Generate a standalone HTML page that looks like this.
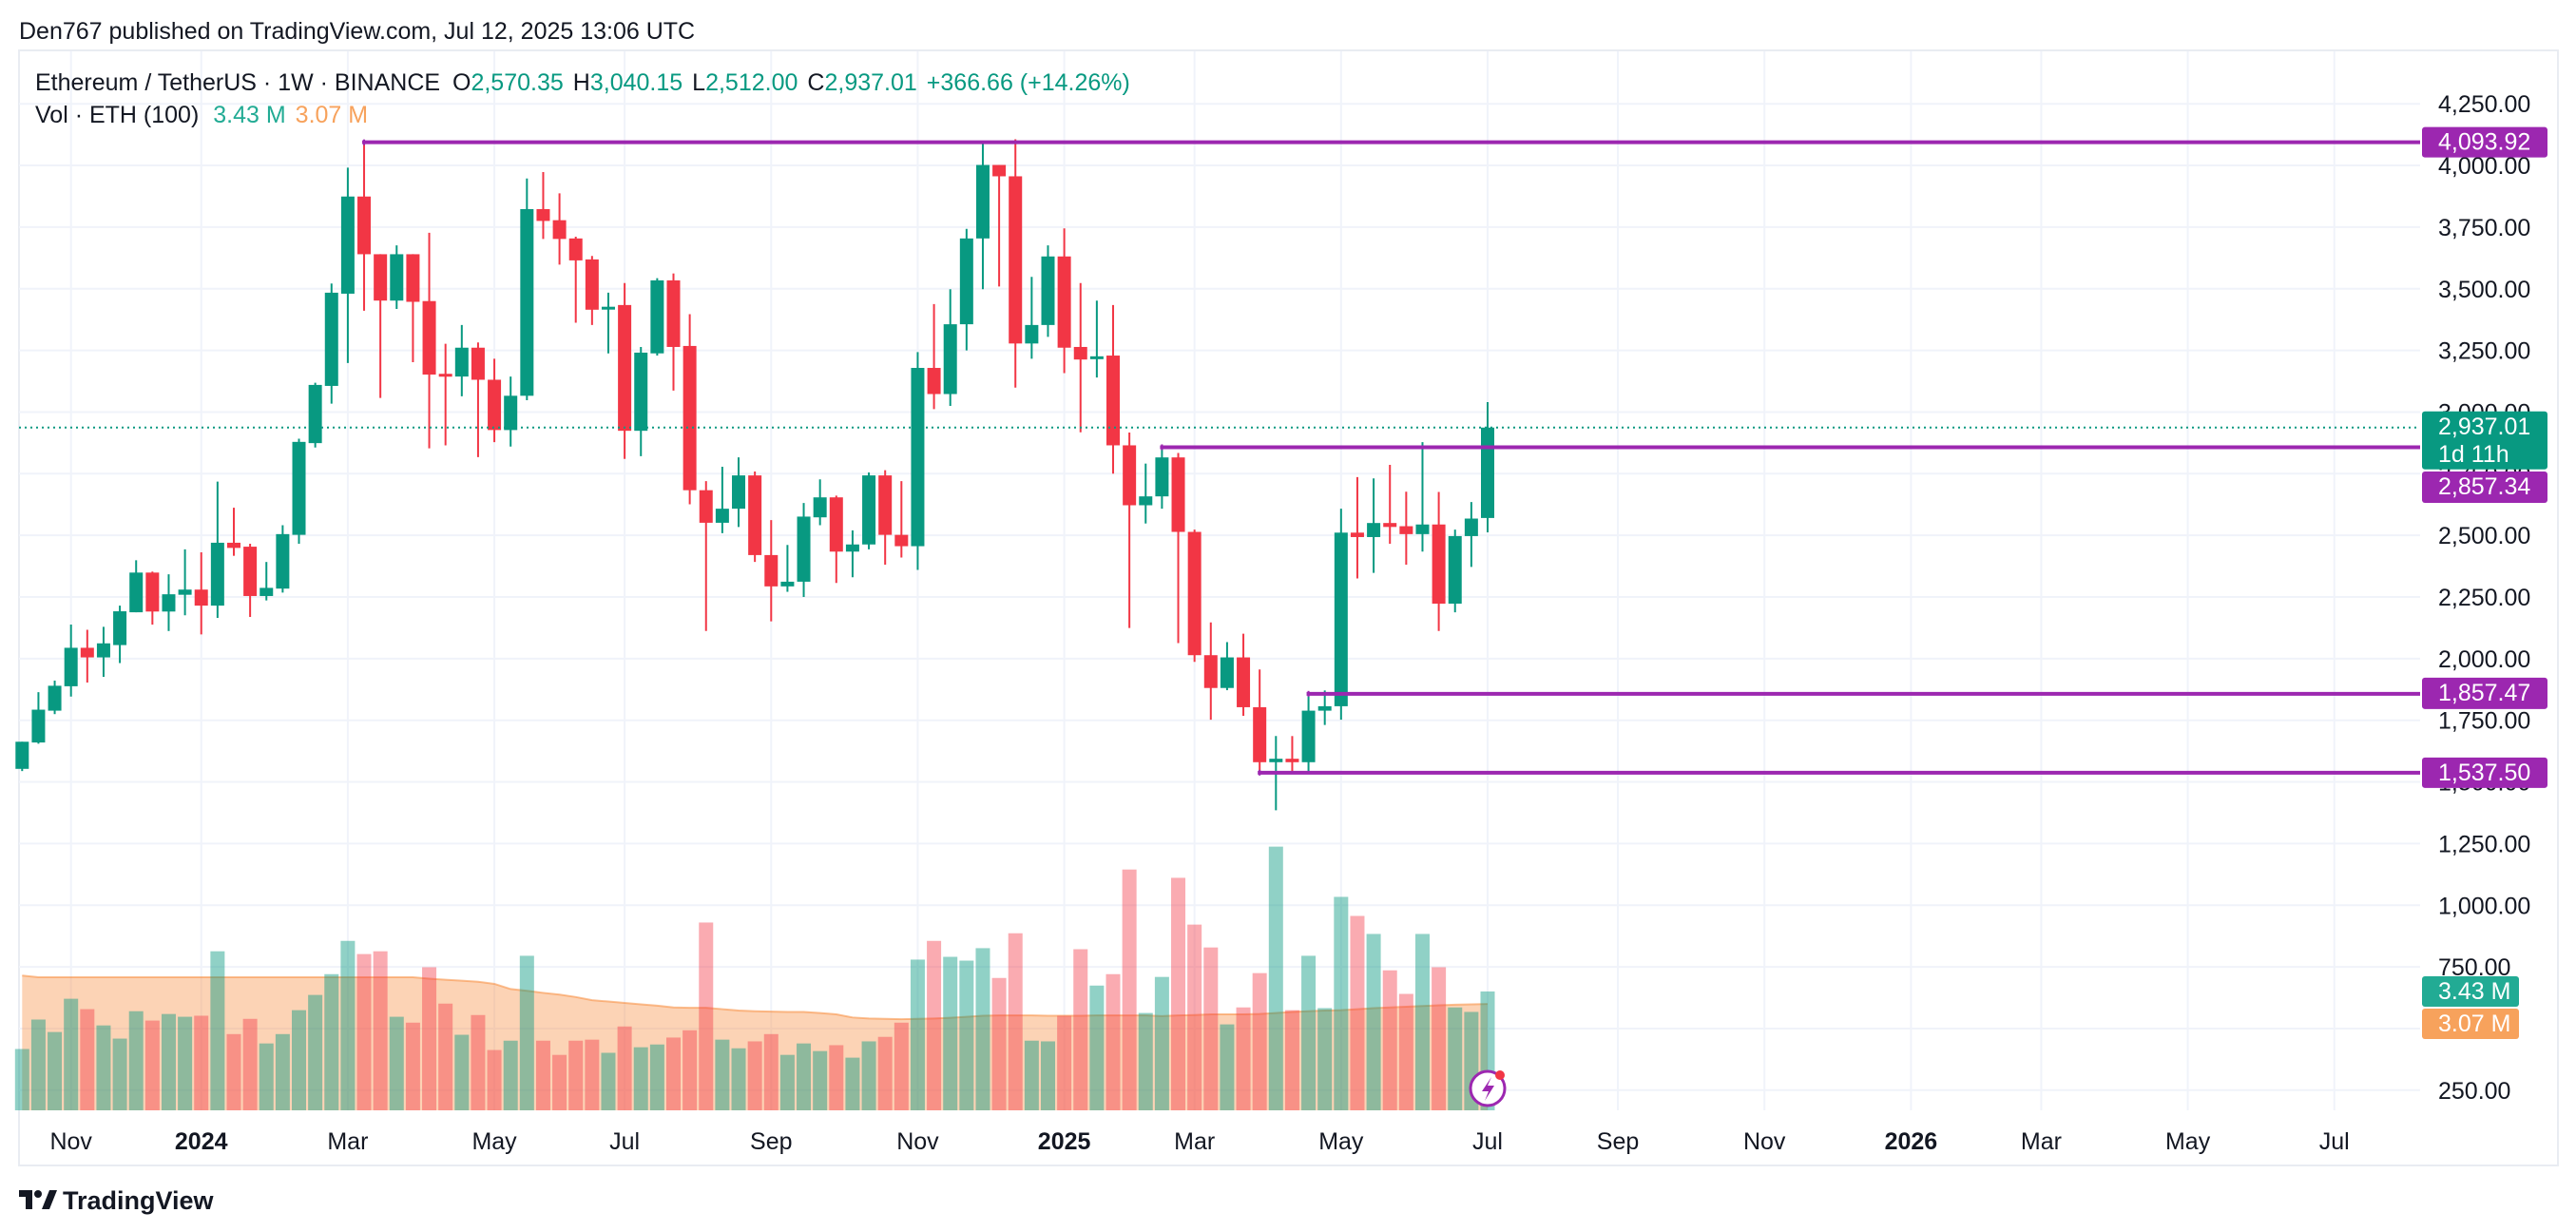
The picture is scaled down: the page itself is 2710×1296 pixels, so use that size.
<!DOCTYPE html>
<html><head><meta charset="utf-8"><style>
html,body{margin:0;padding:0;background:#fff;}
svg{display:block;font-family:"Liberation Sans",sans-serif;}
</style></head><body>
<svg id="chart" width="2710" height="1296" viewBox="0 0 2710 1296" xmlns="http://www.w3.org/2000/svg">
<rect x="0" y="0" width="2710" height="1296" fill="#fff"/>
<text x="20" y="41" font-size="25" fill="#131722">Den767 published on TradingView.com, Jul 12, 2025 13:06 UTC</text>
<rect x="20" y="53" width="2671" height="1173" fill="none" stroke="#e9ecf2" stroke-width="2"/>
<g id="grid"></g>
<g id="vol"></g>
<g id="candles"></g>
<g id="lines"></g>
<g id="axis"></g>
<g id="taxis"></g>
<g id="legend">
<text x="37" y="95" font-size="25" fill="#131722">Ethereum / TetherUS · 1W · BINANCE <tspan dx="6">O</tspan><tspan fill="#089981">2,570.35</tspan><tspan dx="10">H</tspan><tspan fill="#089981">3,040.15</tspan><tspan dx="10">L</tspan><tspan fill="#089981">2,512.00</tspan><tspan dx="10">C</tspan><tspan fill="#089981">2,937.01</tspan><tspan dx="10" fill="#089981">+366.66 (+14.26%)</tspan></text>
<text x="37" y="129" font-size="25" fill="#131722">Vol · ETH (100) <tspan dx="8" fill="#22ab94">3.43 M</tspan><tspan dx="10" fill="#f7a25c">3.07 M</tspan></text>
</g>
<g>
<circle cx="1565" cy="1145" r="18" fill="#fff" stroke="#9c27b0" stroke-width="3"/>
<path d="M1569 1133 L1559 1148 L1566 1148 L1562 1158 L1572 1142 L1565 1142 Z" fill="#9c27b0"/>
<circle cx="1578" cy="1131" r="5" fill="#f23645"/>
</g>
<g>
<path d="M20 1252 h14 v20 h-7 v-13 h-7 z" fill="#131722"/>
<circle cx="40" cy="1256" r="4" fill="#131722"/>
<path d="M44 1272 l8 -20 h8 l-8 20 z" fill="#131722"/>
<text x="66" y="1272" font-size="27" font-weight="bold" fill="#131722">TradingView</text>
</g>
</svg>
<script>
const opens=[1553,1660,1789,1888,2044,2005,2055,2188,2349,2191,2259,2280,2215,2470,2454,2254,2284,2502,2874,3106,3480,3874,3640,3452,3640,3450,3155,3144,3261,3131,2927,3066,3823,3778,3704,3619,3420,3434,2924,3238,3534,3268,2683,2551,2608,2743,2420,2293,2312,2573,2654,2434,2463,2743,2502,2456,3179,3073,3356,3704,4002,3956,3278,3353,3631,3264,3219,3229,2865,2622,2658,2816,2514,2014,1881,2005,1803,1580,1594,1580,1789,1807,2511,2493,2550,2537,2505,2544,2223,2497,2570.35];
const highs=[1663,1864,1911,2138,2117,2129,2215,2399,2353,2342,2443,2431,2718,2612,2466,2392,2541,2892,3119,3521,3991,4094,3640,3676,3640,3727,3277,3353,3282,3216,3144,3947,3973,3887,3711,3633,3484,3523,3264,3543,3562,3397,2720,2778,2816,2759,2562,2461,2631,2727,2661,2520,2755,2764,2720,3243,3438,3498,3743,4089,4002,4106,3548,3676,3745,3523,3452,3434,2917,2791,2857,2834,2523,2147,2067,2101,1956,1686,1686,1858,1871,2608,2736,2731,2786,2677,2878,2676,2523,2635,3040.15];
const lows=[1544,1655,1775,1846,1903,1926,1982,2188,2138,2112,2176,2098,2165,2417,2169,2236,2268,2466,2856,3034,3199,3411,3057,3418,3202,2853,2865,3064,2817,2878,2860,3048,3702,3598,3362,3353,3238,2810,2821,3229,3087,2626,2112,2509,2534,2392,2151,2271,2250,2541,2307,2330,2443,2381,2410,2360,3012,3025,3250,3498,3509,3099,3216,3305,3158,2918,3140,2750,2124,2548,2608,2063,1987,1752,1872,1768,1530,1385,1533,1535,1731,1752,2325,2348,2466,2381,2434,2112,2188,2372,2512];
const closes=[1663,1793,1890,2044,2005,2062,2192,2349,2191,2261,2280,2215,2470,2449,2254,2287,2505,2879,3110,3484,3874,3640,3452,3640,3447,3152,3150,3261,3131,2927,3066,3823,3775,3702,3615,3415,3427,2924,3241,3534,3264,2683,2551,2608,2743,2420,2293,2312,2576,2654,2434,2463,2743,2502,2456,3179,3073,3356,3704,4002,3956,3278,3353,3631,3261,3213,3226,2865,2622,2658,2816,2514,2014,1881,2005,1803,1580,1594,1580,1789,1807,2511,2493,2550,2534,2505,2544,2223,2497,2568,2937.01];
const volumes=[1.77,2.62,2.26,3.22,2.92,2.45,2.07,2.86,2.59,2.78,2.70,2.73,4.59,2.20,2.64,1.93,2.20,2.89,3.33,3.93,4.89,4.51,4.59,2.70,2.53,4.13,3.08,2.18,2.75,1.74,2.01,4.46,2.01,1.60,2.01,2.04,1.66,2.42,1.82,1.90,2.10,2.31,5.42,2.04,1.79,1.99,2.20,1.60,1.93,1.71,1.88,1.52,1.99,2.12,2.53,4.35,4.89,4.43,4.32,4.68,3.82,5.11,2.01,1.99,2.73,4.65,3.60,3.93,6.95,2.81,3.85,6.71,5.36,4.70,2.48,2.97,3.96,7.61,2.89,4.46,2.95,6.16,5.61,5.09,4.04,3.36,5.09,4.13,2.97,2.84,3.43];
const volMA=[3.89,3.84,3.84,3.84,3.84,3.84,3.84,3.84,3.84,3.84,3.84,3.84,3.84,3.84,3.84,3.84,3.84,3.84,3.84,3.84,3.84,3.84,3.84,3.84,3.84,3.80,3.77,3.74,3.71,3.65,3.50,3.45,3.39,3.34,3.27,3.18,3.14,3.10,3.06,3.02,2.97,2.96,2.96,2.92,2.88,2.86,2.85,2.84,2.84,2.81,2.77,2.68,2.65,2.64,2.63,2.64,2.65,2.67,2.70,2.73,2.74,2.74,2.74,2.73,2.73,2.73,2.74,2.74,2.74,2.74,2.72,2.74,2.75,2.77,2.77,2.77,2.78,2.81,2.84,2.86,2.88,2.89,2.92,2.95,2.97,2.99,3.01,3.03,3.05,3.06,3.07];
const priceTicks=[4250,4000,3750,3500,3250,3000,2750,2500,2250,2000,1750,1500,1250,1000,750,500,250];
const timeLabels=["Nov","2024","Mar","May","Jul","Sep","Nov","2025","Mar","May","Jul","Sep","Nov","2026","Mar","May","Jul"];
const timeIdx=[3,11,20,29,37,46,55,64,72,81,90,98,107,116,124,133,142];
const levels=[4093.92,2857.34,1857.47,1537.50];
const levelStart=[21,70,79,76];
const lastPrice=2937.01;

const NS="http://www.w3.org/2000/svg";
function mk(tag,attrs,parent){const e=document.createElementNS(NS,tag);for(const k in attrs)e.setAttribute(k,attrs[k]);parent.appendChild(e);return e;}
const X=i=>23.3+i*17.13;
const Y=p=>109.2+(4250-p)*0.2594;
const VY=v=>1168-v*36.45;
const PLOT_R=2546;
const fmt=v=>v.toLocaleString('en-US',{minimumFractionDigits:2,maximumFractionDigits:2});

const grid=document.getElementById('grid');
priceTicks.forEach(p=>{const l=mk('line',{x1:20,x2:PLOT_R,y1:Y(p),y2:Y(p),stroke:'#f0f3fa','stroke-width':2},grid);

});
timeIdx.forEach(i=>{const l=mk('line',{x1:X(i),x2:X(i),y1:54,y2:1168,stroke:'#f0f3fa','stroke-width':2},grid);

});

const vol=document.getElementById('vol');
let d='M'+X(0)+' 1168';
volMA.forEach((v,i)=>{d+=' L'+X(i)+' '+VY(v);});
d+=' L'+X(volMA.length-1)+' 1168 Z';
const area=mk('path',{d:d,fill:'rgba(247,140,60,0.38)'},vol);


let dl='';volMA.forEach((v,i)=>{dl+=(i?' L':'M')+X(i)+' '+VY(v);});
const maLine=mk('path',{d:dl,fill:'none',stroke:'rgba(247,140,60,0.55)','stroke-width':2},vol);


volumes.forEach((v,i)=>{const up=closes[i]>=opens[i];
const r=mk('rect',{x:X(i)-7.5,y:VY(v),width:15,height:1168-VY(v),fill:up?'rgba(8,153,129,0.45)':'rgba(242,54,69,0.42)'},vol);

});

const cp=mk('line',{x1:20,x2:PLOT_R,y1:Y(lastPrice),y2:Y(lastPrice),stroke:'#089981','stroke-width':2,'stroke-dasharray':'2 4'},document.getElementById('lines'));



const cg=document.getElementById('candles');
opens.forEach((o,i)=>{const c=closes[i];const up=c>=o;const col=up?'#089981':'#f23645';
const g=mk('g',{},cg);


mk('line',{x1:X(i),x2:X(i),y1:Y(highs[i]),y2:Y(lows[i]),stroke:col,'stroke-width':2},g);
const top=Y(Math.max(o,c)),bot=Y(Math.min(o,c));
mk('rect',{x:X(i)-7,y:top,width:14,height:Math.max(3,bot-top),fill:col},g);});

const lg=document.getElementById('lines');
levels.forEach((p,k)=>{const l=mk('line',{x1:X(levelStart[k])-2,x2:PLOT_R,y1:Y(p),y2:Y(p),stroke:'#9c27b0','stroke-width':4},lg);


mk('line',{x1:X(levelStart[k]),x2:X(levelStart[k]),y1:Y(p)-3,y2:Y(p)+3,stroke:'#9c27b0','stroke-width':2},lg);});

const ax=document.getElementById('axis');
priceTicks.forEach(p=>{const t=mk('text',{x:2565,y:Y(p)+9,'font-size':25,fill:'#131722'},ax);t.textContent=fmt(p);

});
function box(y1,h,w,fill,lines,name){const g=mk('g',{},ax);


mk('rect',{x:2548,y:y1,width:w,height:h,rx:3,fill:fill},g);
lines.forEach((s,j)=>{const t=mk('text',{x:2565,y:y1+24+j*29,'font-size':25,fill:'#fff'},g);t.textContent=s;});}
box(Y(levels[0])-16,32,132,'#9c27b0',[fmt(levels[0])],'level-label-4093');
box(Y(lastPrice)-17,61,132,'#089981',[fmt(lastPrice),'1d 11h'],'last-price-label');
box(496,33,132,'#9c27b0',[fmt(levels[1])],'level-label-2857');
box(Y(levels[2])-17,33,132,'#9c27b0',[fmt(levels[2])],'level-label-1857');
box(Y(levels[3])-16,32,132,'#9c27b0',[fmt(levels[3])],'level-label-1537');
const vTop=VY(volumes[volumes.length-1])-16;
box(vTop,32,102,'#22ab94',[volumes[volumes.length-1].toFixed(2)+' M'],'volume-label');
box(Math.max(vTop+34,VY(volMA[volMA.length-1])-16),32,102,'#f7a25c',[volMA[volMA.length-1].toFixed(2)+' M'],'volume-ma-label');

const ta=document.getElementById('taxis');
timeLabels.forEach((s,k)=>{const bold=/^\d{4}$/.test(s);
const t=mk('text',{x:X(timeIdx[k]),y:1209,'font-size':25,'text-anchor':'middle',fill:'#131722','font-weight':bold?'bold':'normal'},ta);t.textContent=s;

});
</script>
</body></html>
